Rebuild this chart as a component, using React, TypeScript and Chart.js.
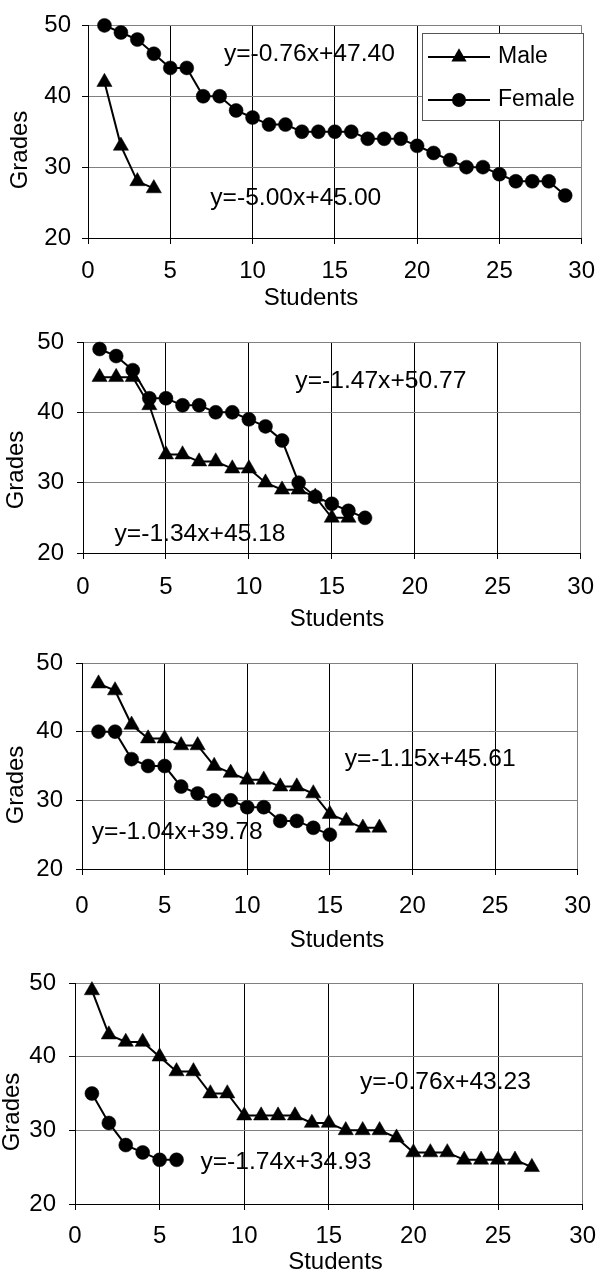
import React, { useEffect, useRef } from "react";
import { Chart, registerables } from "chart.js";

Chart.register(...registerables);

const FONT = "'Liberation Sans', Arial, Helvetica, sans-serif";
const INK = "#000000";
const GRID_GRAY = "#808080";
const FONT_SIZE = 24;
const EQ_FONT_SIZE = 23;

// ---------- data ----------
const seriesNames = ["Male", "Female"];
const xTickValues = [0, 5, 10, 15, 20, 25, 30];
const yTickValues = [20, 30, 40, 50];
const xAxisTitle = "Students";
const yAxisTitle = "Grades";

const panel1Male = [42, 33, 28, 27];
const panel1Female = [50, 49, 48, 46, 44, 44, 40, 40, 38, 37, 36, 36, 35, 35, 35, 35, 34, 34, 34, 33, 32, 31, 30, 30, 29, 28, 28, 28, 26];
const panel1Equations = ["y=-0.76x+47.40", "y=-5.00x+45.00"];

const panel2Male = [45, 45, 45, 41, 34, 34, 33, 33, 32, 32, 30, 29, 29, 28, 25, 25];
const panel2Female = [49, 48, 46, 42, 42, 41, 41, 40, 40, 39, 38, 36, 30, 28, 27, 26, 25];
const panel2Equations = ["y=-1.47x+50.77", "y=-1.34x+45.18"];

const panel3Male = [47, 46, 41, 39, 39, 38, 38, 35, 34, 33, 33, 32, 32, 31, 28, 27, 26, 26];
const panel3Female = [40, 40, 36, 35, 35, 32, 31, 30, 30, 29, 29, 27, 27, 26, 25];
const panel3Equations = ["y=-1.15x+45.61", "y=-1.04x+39.78"];

const panel4Male = [49, 43, 42, 42, 40, 38, 38, 35, 35, 32, 32, 32, 32, 31, 31, 30, 30, 30, 29, 27, 27, 27, 26, 26, 26, 26, 25];
const panel4Female = [35, 31, 28, 27, 26, 26];
const panel4Equations = ["y=-0.76x+43.23", "y=-1.74x+34.93"];

// ---------- layout (page pixels) ----------
type Layout = {
  top: number; h: number;
  plotL: number; plotR: number; plotT: number; plotB: number;
  xPad: number; yPad: number;
  gradesX: number; gradesY: number;
  studentsX: number; studentsY: number;
  eqAnchors: [number, number][]; // in data units
  legend: boolean;
};

const panels: { male: number[]; female: number[]; equations: string[]; layout: Layout }[] = [
  {
    male: panel1Male, female: panel1Female, equations: panel1Equations,
    layout: { top: 0, h: 310, plotL: 88, plotR: 590, plotT: 21, plotB: 238, xPad: 13, yPad: 11,
      gradesX: 20, gradesY: 150, studentsX: 311, studentsY: 298.5,
      eqAnchors: [[8.26, 45.85], [7.43, 25.53]], legend: true },
  },
  {
    male: panel2Male, female: panel2Female, equations: panel2Equations,
    layout: { top: 310, h: 320, plotL: 83, plotR: 593, plotT: 342, plotB: 553, xPad: 14, yPad: 13,
      gradesX: 16, gradesY: 470, studentsX: 337, studentsY: 619,
      eqAnchors: [[12.8, 44.3], [1.9, 22.56]], legend: false },
  },
  {
    male: panel3Male, female: panel3Female, equations: panel3Equations,
    layout: { top: 630, h: 320, plotL: 82, plotR: 594, plotT: 663, plotB: 869, xPad: 17, yPad: 13,
      gradesX: 16, gradesY: 785, studentsX: 337, studentsY: 940,
      eqAnchors: [[15.9, 35.87], [0.59, 25.24]], legend: false },
  },
  {
    male: panel4Male, female: panel4Female, equations: panel4Equations,
    layout: { top: 950, h: 322, plotL: 75, plotR: 597, plotT: 983, plotB: 1204, xPad: 12, yPad: 13,
      gradesX: 12, gradesY: 1112, studentsX: 335.5, studentsY: 1262,
      eqAnchors: [[16.84, 36.43], [7.41, 25.57]], legend: false },
  },
];

const TRI_R = 8.8;
const CIRC_R = 7;

function drawMarker(ctx: CanvasRenderingContext2D, style: string, x: number, y: number) {
  ctx.beginPath();
  if (style === "triangle") {
    const r = TRI_R;
    ctx.moveTo(x, y - r);
    ctx.lineTo(x + r * 0.866, y + r / 2);
    ctx.lineTo(x - r * 0.866, y + r / 2);
    ctx.closePath();
  } else {
    ctx.arc(x, y, CIRC_R, 0, Math.PI * 2);
  }
  ctx.fill();
}

const overlayPlugin = {
  id: "overlay",
  afterDraw(chart: any, _args: any, opts: any) {
    const { ctx, scales } = chart;
    const L: Layout = opts.layout;
    const xs = scales.x, ys = scales.y;
    ctx.save();
    ctx.fillStyle = INK;
    ctx.strokeStyle = INK;
    ctx.textBaseline = "middle";

    // regression equations
    ctx.font = `${EQ_FONT_SIZE}px ${FONT}`;
    ctx.textAlign = "left";
    (opts.equations as string[]).forEach((t, i) => {
      const [vx, vy] = L.eqAnchors[i];
      ctx.save();
      ctx.translate(xs.getPixelForValue(vx), ys.getPixelForValue(vy));
      ctx.scale(1.07, 1);
      ctx.fillText(t, 0, 0);
      ctx.restore();
    });

    // axis titles
    ctx.font = `${FONT_SIZE}px ${FONT}`;
    ctx.textAlign = "center";
    ctx.fillText(xAxisTitle, L.studentsX, L.studentsY - L.top);
    ctx.save();
    ctx.translate(L.gradesX, L.gradesY - L.top);
    ctx.rotate(-Math.PI / 2);
    ctx.fillText(yAxisTitle, 0, 0);
    ctx.restore();

    // legend
    if (L.legend) {
      const bx = 422, by = 33 - L.top, bw = 161, bh = 87;
      ctx.fillStyle = "#ffffff";
      ctx.fillRect(bx, by, bw, bh);
      ctx.strokeStyle = "#555555";
      ctx.lineWidth = 1;
      ctx.strokeRect(bx + 0.5, by + 0.5, bw, bh);
      const rows = [57 - L.top, 100 - L.top];
      const markers = ["triangle", "circle"];
      ctx.font = `${EQ_FONT_SIZE}px ${FONT}`;
      seriesNames.forEach((name, i) => {
        const ry = rows[i];
        ctx.strokeStyle = INK;
        ctx.fillStyle = INK;
        ctx.lineWidth = 2;
        ctx.beginPath();
        ctx.moveTo(428, ry);
        ctx.lineTo(490, ry);
        ctx.stroke();
        drawMarker(ctx, markers[i], 459, ry);
        ctx.textAlign = "left";
        ctx.fillText(name, 498, ry);
      });
    }
    ctx.restore();
  },
};

function buildConfig(p: (typeof panels)[number]) {
  const L = p.layout;
  const series = [
    { name: seriesNames[0], values: p.male, marker: "triangle", radius: TRI_R },
    { name: seriesNames[1], values: p.female, marker: "circle", radius: CIRC_R },
  ];
  return {
    type: "line" as const,
    data: {
      datasets: series.map((s) => ({
        label: s.name,
        data: s.values.map((v, i) => ({ x: i + 1, y: v })),
        borderColor: INK,
        backgroundColor: INK,
        borderWidth: 2,
        pointStyle: s.marker,
        pointRadius: s.radius,
        pointBackgroundColor: INK,
        pointBorderColor: INK,
        pointBorderWidth: 0.5,
        tension: 0,
        fill: false,
        clip: false,
      })),
    },
    options: {
      responsive: false,
      animation: false,
      events: [],
      devicePixelRatio: 1,
      layout: { padding: { top: L.plotT - L.top, right: 608 - L.plotR, bottom: 0, left: 0 } },
      scales: {
        x: {
          type: "linear",
          min: 0,
          max: 30,
          afterFit: (s: any) => { s.height = L.top + L.h - L.plotB; },
          afterBuildTicks: (s: any) => { s.ticks = xTickValues.map((v) => ({ value: v })); },
          grid: {
            color: (c: any) => (c.tick && c.tick.value === 30 ? GRID_GRAY : INK),
            lineWidth: 1,
            tickColor: INK,
            tickLength: 6,
            drawTicks: true,
          },
          border: { display: true, color: INK, width: 1 },
          ticks: { padding: L.xPad, color: INK, font: { family: FONT, size: FONT_SIZE }, maxRotation: 0, autoSkip: false },
          title: { display: false },
        },
        y: {
          type: "linear",
          min: 20,
          max: 50,
          afterFit: (s: any) => { s.width = L.plotL; },
          afterBuildTicks: (s: any) => { s.ticks = yTickValues.map((v) => ({ value: v })); },
          grid: {
            color: (c: any) => (c.tick && c.tick.value === 20 ? INK : GRID_GRAY),
            lineWidth: 1,
            tickColor: INK,
            tickLength: 6,
            drawTicks: true,
          },
          border: { display: true, color: INK, width: 1 },
          ticks: { padding: L.yPad, color: INK, font: { family: FONT, size: FONT_SIZE }, autoSkip: false },
          title: { display: false },
        },
      },
      plugins: {
        legend: { display: false },
        tooltip: { enabled: false },
        overlay: { layout: L, equations: p.equations },
      },
    },
    plugins: [overlayPlugin],
  };
}

function Panel({ p }: { p: (typeof panels)[number] }) {
  const ref = useRef<HTMLCanvasElement>(null);
  useEffect(() => {
    if (!ref.current) return;
    const chart = new Chart(ref.current, buildConfig(p) as any);
    return () => chart.destroy();
  }, [p]);
  return (
    <canvas
      ref={ref}
      width={608}
      height={p.layout.h}
      style={{ position: "absolute", left: 0, top: p.layout.top, width: 608, height: p.layout.h }}
    />
  );
}

export default function App() {
  useEffect(() => {
    document.body.style.margin = "0";
    document.body.style.overflow = "hidden";
  }, []);
  return (
    <div style={{ position: "absolute", left: 0, top: 0, width: 608, height: 1272, overflow: "hidden", background: "#fff" }}>
      {panels.map((p, i) => (
        <Panel key={i} p={p} />
      ))}
    </div>
  );
}
